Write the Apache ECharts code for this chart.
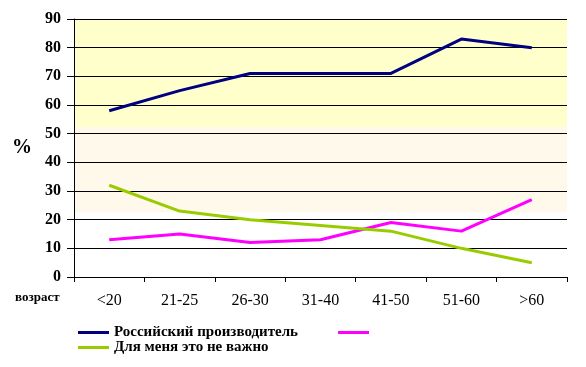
<!DOCTYPE html>
<html>
<head>
<meta charset="utf-8">
<script src="https://cdn.jsdelivr.net/npm/echarts@6/dist/echarts.min.js"></script>
<style>
html,body{margin:0;padding:0;background:#fff;}
#chart{width:586px;height:367px;}
</style>
</head>
<body>
<div id="chart"></div>
<script>
var categories = ['<20', '21-25', '26-30', '31-40', '41-50', '51-60', '>60'];
var russian = [58, 65, 71, 71, 71, 83, 80];
var pinkSeries = [13, 15, 12, 13, 19, 16, 27];
var notImportant = [32, 23, 20, 18, 16, 10, 5];
var seriesNames = ['Российский производитель', ' ', 'Для меня это не важно'];
var yTicks = [0, 90, 10];
var bandEdges = [22.6, 52.3, 90];

var FONT = '"Liberation Serif", "Times New Roman", serif';
var chart = echarts.init(document.getElementById('chart'), null, {renderer: 'canvas'});
chart.setOption({
  animation: false,
  backgroundColor: '#ffffff',
  grid: {left: 74, right: 19, top: 19, bottom: 90, containLabel: false},
  legend: [{
    data: [seriesNames[0], seriesNames[1]],
    left: 78, top: 325, orient: 'horizontal', padding: 0,
    icon: 'rect', itemWidth: 31, itemHeight: 3, itemGap: 40,
    textStyle: {fontFamily: FONT, fontWeight: 'bold', fontSize: 15, color: '#000'}
  }, {
    data: [seriesNames[2]],
    left: 78, top: 340, orient: 'horizontal', padding: 0,
    icon: 'rect', itemWidth: 31, itemHeight: 3,
    textStyle: {fontFamily: FONT, fontWeight: 'bold', fontSize: 15, color: '#000'}
  }],
  graphic: [{
    type: 'text', left: 15, top: 291,
    style: {text: 'возраст', font: 'bold 13px ' + FONT, fill: '#000'}
  }],
  xAxis: {
    type: 'category', data: categories, boundaryGap: true, z: 3,
    axisLine: {lineStyle: {color: '#000', width: 1}},
    axisTick: {show: true, length: 5, inside: false, alignWithLabel: false, lineStyle: {color: '#000'}},
    axisLabel: {margin: 16, fontFamily: FONT, fontSize: 16, color: '#000', interval: 0},
    splitLine: {show: false}
  },
  yAxis: {
    type: 'value', min: yTicks[0], max: yTicks[1], interval: yTicks[2], z: 3,
    name: '%', nameLocation: 'middle', nameGap: 42, nameRotate: 0,
    nameTextStyle: {fontFamily: FONT, fontWeight: 'bold', fontSize: 20, color: '#000'},
    axisLine: {show: true, lineStyle: {color: '#000', width: 1}},
    axisTick: {show: true, length: 7, lineStyle: {color: '#000'}},
    axisLabel: {margin: 13, fontFamily: FONT, fontWeight: 'bold', fontSize: 16, color: '#000'},
    splitLine: {show: true, lineStyle: {color: '#000', width: 1}}
  },
  series: [{
    name: seriesNames[0], type: 'line', data: russian, showSymbol: false, symbol: 'none',
    lineStyle: {color: '#000080', width: 3}, itemStyle: {color: '#000080'}, z: 5,
    markArea: {
      silent: true, z: 0,
      data: [
        [{yAxis: bandEdges[0], itemStyle: {color: '#FFF9EC'}}, {yAxis: bandEdges[1]}],
        [{yAxis: bandEdges[1], itemStyle: {color: '#FFFFCC'}}, {yAxis: bandEdges[2]}]
      ]
    }
  }, {
    name: seriesNames[1], type: 'line', data: pinkSeries, showSymbol: false, symbol: 'none',
    lineStyle: {color: '#FF00FF', width: 3}, itemStyle: {color: '#FF00FF'}, z: 5
  }, {
    name: seriesNames[2], type: 'line', data: notImportant, showSymbol: false, symbol: 'none',
    lineStyle: {color: '#99CC00', width: 3}, itemStyle: {color: '#99CC00'}, z: 5
  }]
});
</script>
</body>
</html>
